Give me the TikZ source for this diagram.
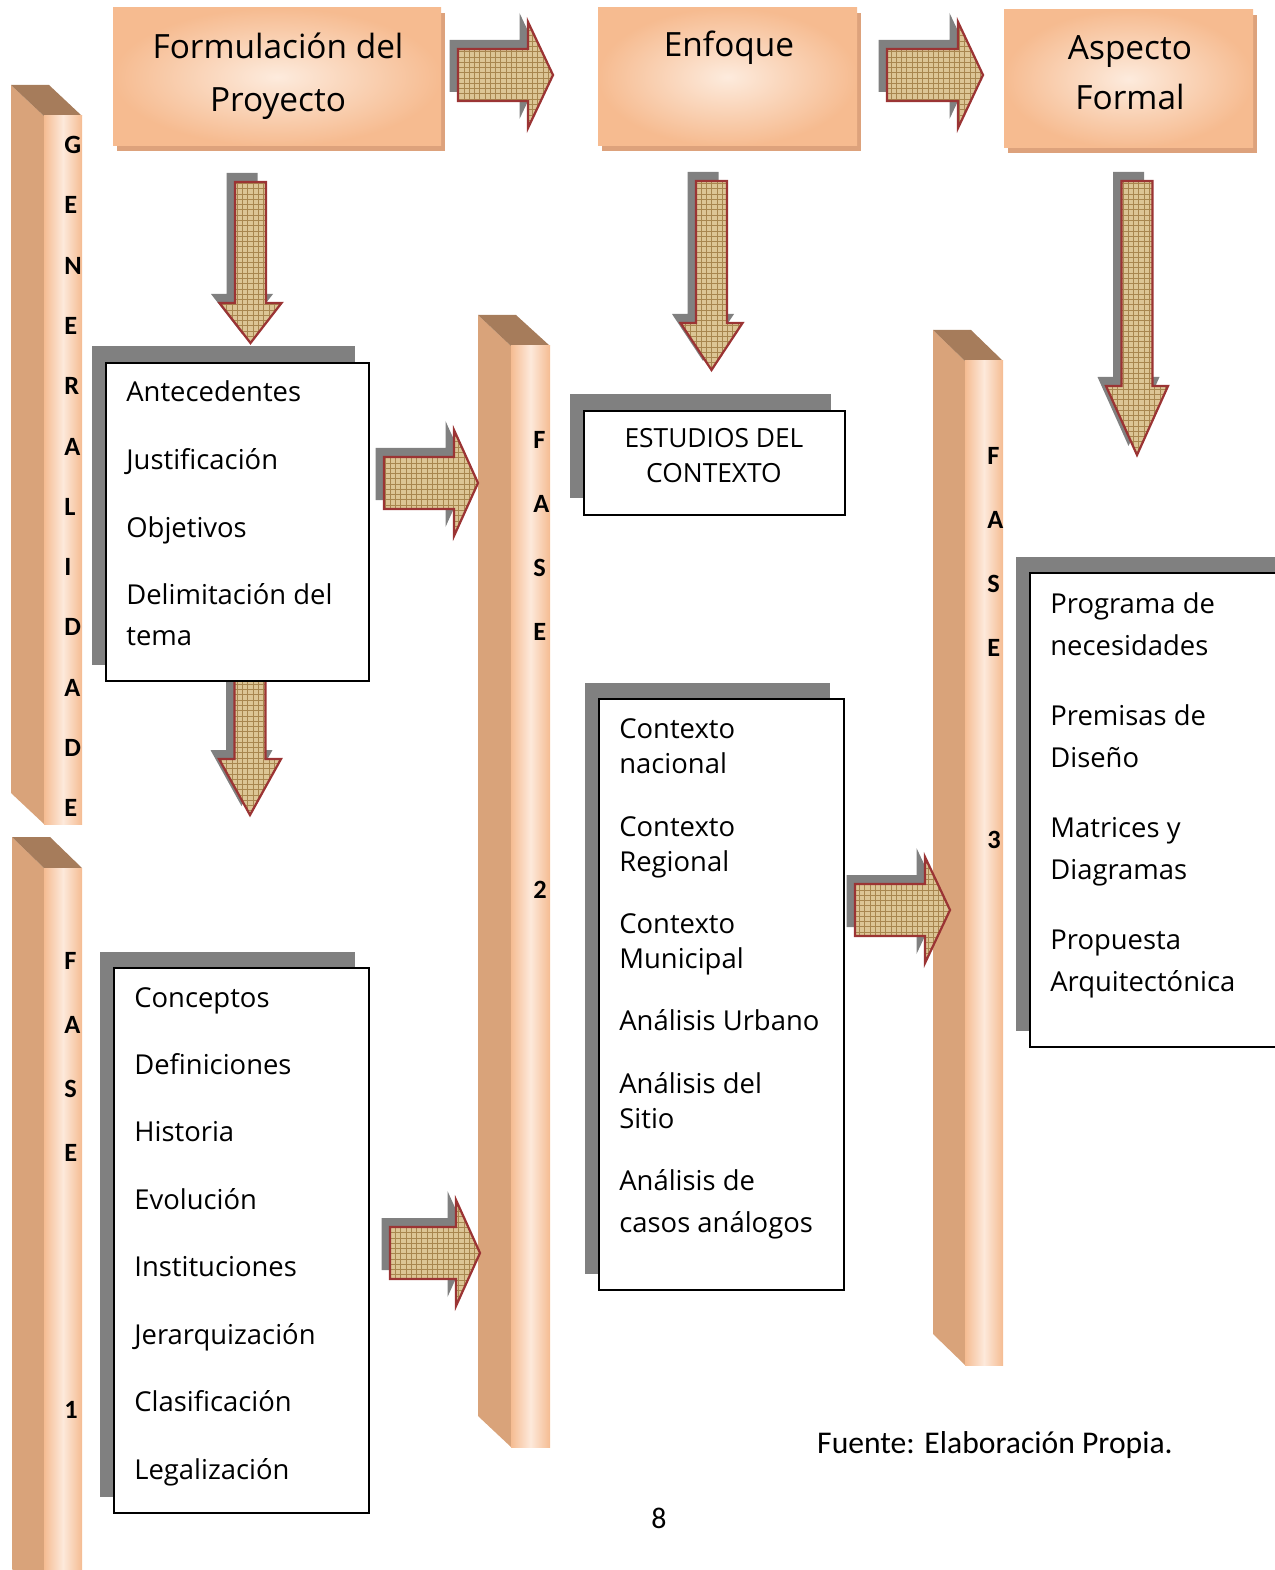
\documentclass[tikz,border=0pt]{standalone}
\usepackage{fontspec}
\setmainfont{Open Sans}
\newfontfamily\calfont{Carlito}
\usetikzlibrary{patterns,fit,shadows}
\definecolor{HeadOrange}{HTML}{F6BB90}
\definecolor{HeadLight}{HTML}{FDEBDD}
\definecolor{HeadShadow}{HTML}{DDA27C}
\definecolor{PilSide}{HTML}{D9A37A}
\definecolor{PilTop}{HTML}{A67C5B}
\definecolor{PilFront}{HTML}{F5BC92}
\definecolor{PilLight}{HTML}{FDE9DB}
\definecolor{BoxGray}{HTML}{808080}
\definecolor{Burlap}{HTML}{DCC595}
\definecolor{BurlapDark}{HTML}{A8864F}
\definecolor{ArrowRed}{HTML}{9B3434}

\tikzset{
  headbox/.style={inner sep=0pt,inner color=HeadLight,outer color=HeadOrange,
    general shadow={fill=HeadShadow,shadow xshift=0.8mm,shadow yshift=-1mm}},
  headtext/.style={anchor=base,inner sep=0pt,font=\fontsize{19}{22}\selectfont},
  listbox/.style={inner sep=0pt,draw=black,line width=0.35mm,fill=white,
    general shadow={fill=BoxGray,shadow xshift=-2.8mm,shadow yshift=3.3mm}},
  item/.style={anchor=base west,inner sep=0pt,font=\fontsize{15.6}{18}\selectfont},
  pilletter/.style={anchor=west,inner sep=0pt,font=\calfont\bfseries\fontsize{15}{18}\selectfont},
  blockarrow/.style={fill=Burlap,
    general shadow={fill=BoxGray,shadow xshift=-1.7mm,shadow yshift=1.8mm},
    postaction={pattern=grid,pattern color=BurlapDark},
    postaction={draw=ArrowRed,line width=0.45mm,line join=miter}}
}

% pillar: back x, front-left x, front-right x, top y, bottom y
\newcommand{\pillar}[5]{%
  \fill[PilSide] (#1,#4) -- (#2,{#4+31}) -- (#2,#5) -- (#1,{#5-31}) -- cycle;
  \fill[PilTop] (#1,#4) -- ({#1+38},#4) -- (#3,{#4+31}) -- (#2,{#4+31}) -- cycle;
  \shade[left color=PilFront,right color=PilFront,middle color=PilLight] (#2,{#4+31}) rectangle (#3,#5);
}
% right block arrow: x start, x head base, x tip, y middle
\newcommand{\blockright}[4]{%
  \path[blockarrow] (#1,{#4-26}) -- (#2,{#4-26}) -- (#2,{#4-53}) -- (#3,#4)
    -- (#2,{#4+53}) -- (#2,{#4+26}) -- (#1,{#4+26}) -- cycle;
}
% down block arrow: x middle, y start, y head base, y tip
\newcommand{\blockdown}[4]{%
  \path[blockarrow] ({#1-15.5},#2) -- ({#1+15.5},#2) -- ({#1+15.5},#3) -- ({#1+31},#3)
    -- (#1,#4) -- ({#1-31},#3) -- ({#1-15.5},#3) -- cycle;
}

\begin{document}
\begin{tikzpicture}[x=0.2mm,y=-0.2mm]
  \useasboundingbox (0,0) rectangle (1274,1570);

  % pillars
  \pillar{11}{44}{82}{85}{824}
  \pillar{12}{44}{82}{837}{1600}
  \pillar{478}{511}{550}{315}{1447}
  \pillar{933}{965}{1003}{330}{1365}

  \foreach \ch [count=\i] in {G,E,N,E,R,A,L,I,D,A,D,E}
    \node[pilletter] (gen\i) at (64,{145+(\i-1)*60.3}) {\ch};
  \foreach \ch [count=\i] in {F,A,S,E}
    \node[pilletter] (faseA\i) at (64,{961+(\i-1)*64}) {\ch};
  \node[pilletter] (faseAn) at (64,1410) {1};
  \foreach \ch [count=\i] in {F,A,S,E}
    \node[pilletter] (faseB\i) at (533,{440+(\i-1)*64}) {\ch};
  \node[pilletter] (faseBn) at (533,890) {2};
  \foreach \ch [count=\i] in {F,A,S,E}
    \node[pilletter] (faseC\i) at (987,{456+(\i-1)*64}) {\ch};
  \node[pilletter] (faseCn) at (987,840) {3};

  % headers
  \node[headbox,fit={(113,8) (441,146)}] (formul) {};
  \node[headtext] (formulA) at (278,59) {Formulación del};
  \node[headtext] (formulB) at (278,112) {Proyecto};
  \node[headbox,fit={(598,8) (857,146)}] (enfoque) {};
  \node[headtext] (enfoqueA) at (729,57) {Enfoque};
  \node[headbox,fit={(1004,10) (1253,148)}] (aspecto) {};
  \node[headtext] (aspectoA) at (1130,60) {Aspecto};
  \node[headtext] (aspectoB) at (1130,110) {Formal};

  % arrows
  \blockright{458}{528}{553}{75}
  \blockright{887}{958}{983}{75}
  \blockright{384}{454}{478}{483}
  \blockright{390}{456}{480}{1253}
  \blockright{855}{925}{950}{910}
  \blockdown{250.5}{182}{303}{343}
  \blockdown{250}{660}{759}{815}
  \blockdown{711.5}{181}{323}{370}
  \blockdown{1137}{181}{386}{455}

  % boxes
  \node[listbox,fit={(106,363) (369,681)}] (antec) {};
  \foreach \txt/\yy [count=\i] in {Antecedentes/402,Justificación/470,Objetivos/537,Delimitación del/604,tema/645}
    \node[item] (antec\i) at (126,\yy) {\txt};

  \node[listbox,fit={(584,411) (845,515)}] (estud) {};
  \node[headtext,font=\fontsize{15}{18}\selectfont] (estudA) at (714,447) {ESTUDIOS DEL};
  \node[headtext,font=\fontsize{15}{18}\selectfont] (estudB) at (714,483) {CONTEXTO};

  \node[listbox,fit={(599,699) (844,1290)}] (contx) {};
  \foreach \txt/\yy [count=\i] in {Contexto/738,nacional/773,Contexto/836,Regional/871,Contexto/933,Municipal/968,Análisis Urbano/1030,Análisis del/1093,Sitio/1128,Análisis de/1190,casos análogos/1232}
    \node[item] (contx\i) at (619,\yy) {\txt};

  \node[listbox,fit={(1030,573) (1290,1047)}] (progr) {};
  \foreach \txt/\yy [count=\i] in {Programa de/613,necesidades/655,Premisas de/725,Diseño/767,Matrices y/837,Diagramas/879,Propuesta/949,Arquitectónica/991}
    \node[item] (progr\i) at (1050,\yy) {\txt};

  \node[listbox,fit={(114,968) (369,1513)}] (conce) {};
  \foreach \txt/\yy [count=\i] in {Conceptos/1007,Definiciones/1074,Historia/1141,Evolución/1209,Instituciones/1276,Jerarquización/1344,Clasificación/1411,Legalización/1479}
    \node[item] (conce\i) at (134,\yy) {\txt};

  \node[anchor=base,inner sep=0pt,font=\calfont\fontsize{18}{21}\selectfont] (fuente) at (995,1453) {Fuente: Elaboración Propia.};
  \node[anchor=base,inner sep=0pt,font=\calfont\fontsize{17}{20}\selectfont] (pagina) at (659,1528) {8};
\end{tikzpicture}
\end{document}
